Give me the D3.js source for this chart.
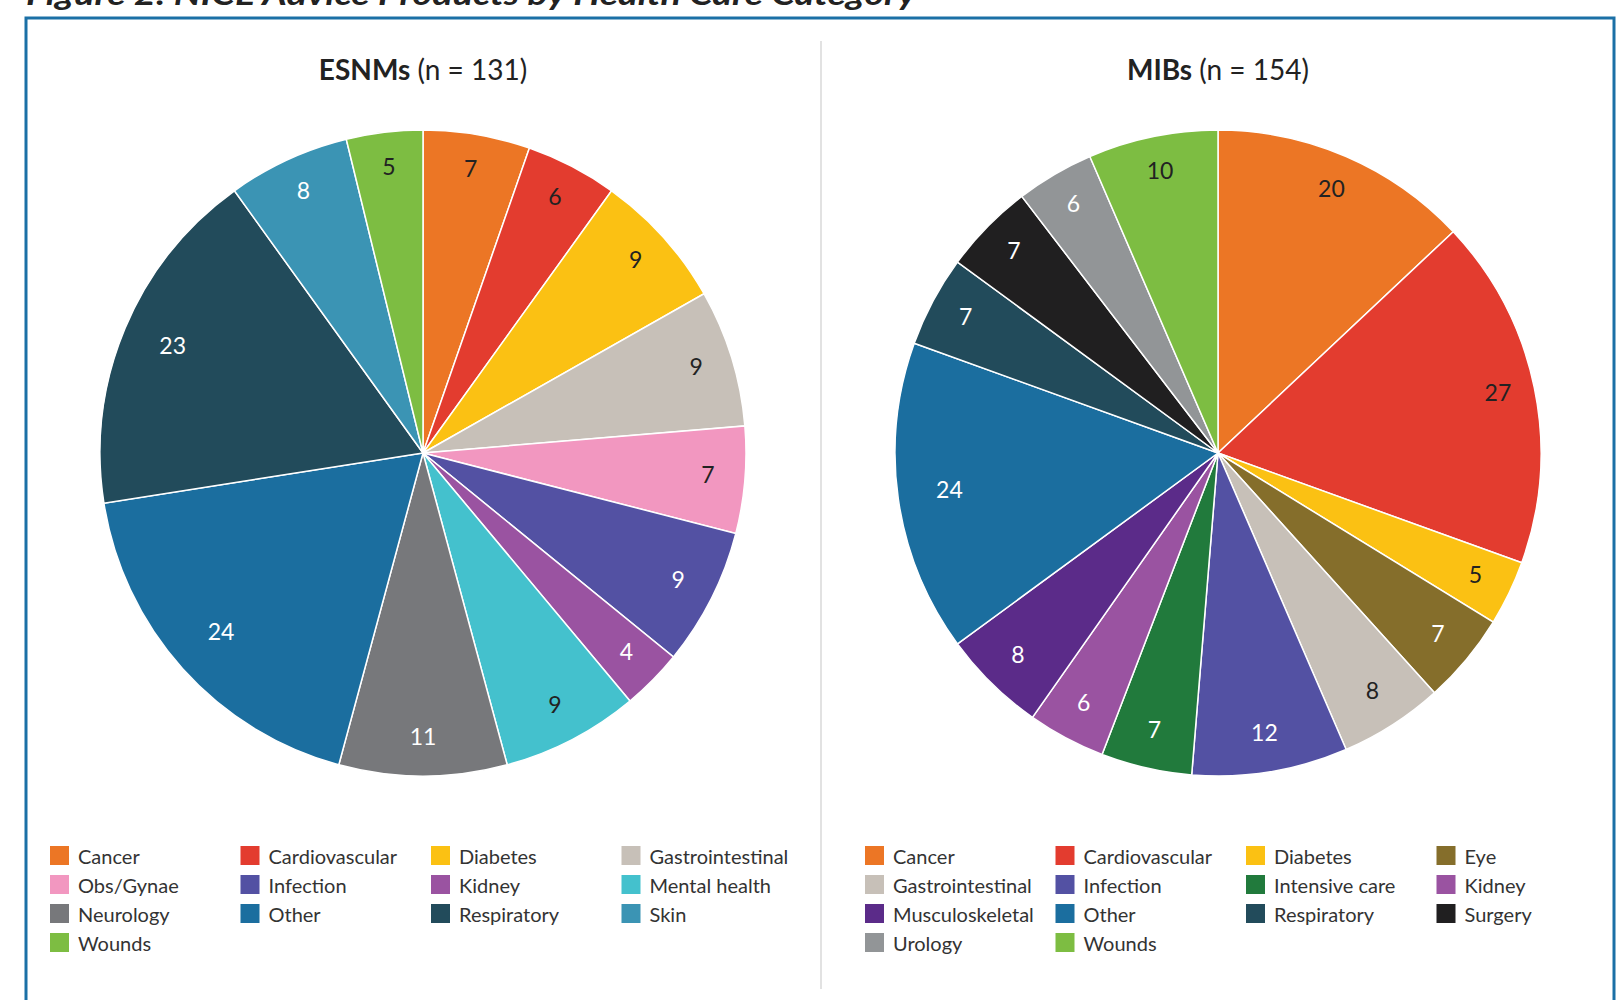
<!DOCTYPE html>
<html lang="en">
<head>
    <meta charset="UTF-8">
    <title>NICE Advice Products by Health Care Category</title>
    <style>
        body {
            margin: 0;
            background: #fff;
            font-family: Lato, "Open Sans", sans-serif;
        }
        .slice path {
            stroke: #fff;
            stroke-width: 1.5px;
        }
        .slice text {
            font-size: 23px;
            text-anchor: middle;
            dominant-baseline: central;
        }
        .legend text {
            font-size: 20px;
            fill: #333;
            dominant-baseline: central;
        }
        .panel-title {
            font-size: 28px;
            fill: #222;
            text-anchor: middle;
        }
    </style>
</head>
<body>
    <svg id="chart" width="1624" height="1000"></svg>
    <script src="https://d3js.org/d3.v7.min.js"></script>
    <script>
        // ESNMs, clockwise from 12 o'clock
        const esnmCategories = ["Cancer", "Cardiovascular", "Diabetes", "Gastrointestinal",
            "Obs/Gynae", "Infection", "Kidney", "Mental health",
            "Neurology", "Other", "Respiratory", "Skin", "Wounds"];
        const esnmValues = [7, 6, 9, 9, 7, 9, 4, 9, 11, 24, 23, 8, 5];

        // MIBs
        const mibCategories = ["Cancer", "Cardiovascular", "Diabetes", "Eye",
            "Gastrointestinal", "Infection", "Intensive care", "Kidney",
            "Musculoskeletal", "Other", "Respiratory", "Surgery", "Urology", "Wounds"];
        const mibValues = [20, 27, 5, 7, 8, 12, 7, 6, 8, 24, 7, 7, 6, 10];

        const allCategories = ["Cancer", "Cardiovascular", "Diabetes", "Eye", "Gastrointestinal",
            "Obs/Gynae", "Infection", "Intensive care", "Kidney", "Mental health",
            "Musculoskeletal", "Neurology", "Other", "Respiratory", "Skin",
            "Surgery", "Urology", "Wounds"];
        const allColors = ["#ec7625", "#e33c2f", "#fbc113", "#856e2b", "#c7c0b8",
            "#f297c0", "#5351a3", "#217a3c", "#9a53a1", "#44c1cd",
            "#5b2b89", "#77787b", "#1b6e9f", "#224b5b", "#3b94b4",
            "#201f20", "#929597", "#7dbd42"];
        // slices whose number is printed in dark text
        const darkLabelCats = ["Cancer", "Cardiovascular", "Diabetes", "Gastrointestinal",
            "Obs/Gynae", "Mental health", "Wounds"];

        const color = d3.scaleOrdinal().domain(allCategories).range(allColors);

        const svg = d3.select("#chart");

        // cut-off figure caption at the very top
        svg.append("text")
            .attr("x", 26)
            .attr("y", 5)
            .attr("textLength", 890)
            .attr("lengthAdjust", "spacingAndGlyphs")
            .style("font-size", "31px")
            .style("font-weight", "bold")
            .style("font-style", "italic")
            .style("fill", "#222")
            .text("Figure 2: NICE Advice Products by Health Care Category");

        // frame
        svg.append("rect")
            .attr("x", 26)
            .attr("y", 18)
            .attr("width", 1588)
            .attr("height", 1000)
            .attr("fill", "none")
            .attr("stroke", "#1b70a6")
            .attr("stroke-width", 3);

        svg.append("line")
            .attr("x1", 821).attr("x2", 821)
            .attr("y1", 41).attr("y2", 989)
            .attr("stroke", "#d9d9d9")
            .attr("stroke-width", 1.5);

        const radius = 323;
        const pie = d3.pie().sort(null).value(d => d.value);
        const arc = d3.arc().innerRadius(0).outerRadius(radius);

        function drawPanel(cx, title, n, cats, values, legendX) {
            const data = cats.map((c, i) => ({ name: c, value: values[i] }));

            const t = svg.append("text")
                .attr("class", "panel-title")
                .attr("x", cx)
                .attr("y", 80);
            t.append("tspan").style("font-weight", "bold").text(title);
            t.append("tspan").text(` (n = ${n})`);

            const g = svg.append("g")
                .attr("transform", `translate(${cx},453)`);

            const slice = g.selectAll(".slice")
                .data(pie(data))
                .enter()
                .append("g")
                .attr("class", "slice");

            slice.append("path")
                .attr("d", arc)
                .attr("fill", d => color(d.data.name));

            slice.append("text")
                .attr("transform", d => {
                    // the two big blue wedges carry their numbers a bit further in
                    const inner = (d.data.name === "Other" || d.data.name === "Respiratory") && d.data.value > 20;
                    const lr = radius * (inner ? 0.84 : 0.885);
                    const la = d3.arc().innerRadius(lr).outerRadius(lr);
                    return `translate(${la.centroid(d)})`;
                })
                .attr("dy", -3)
                .attr("fill", d => darkLabelCats.includes(d.data.name) ? "#222" : "#fff")
                .text(d => d.data.value);

            const legend = svg.append("g")
                .attr("class", "legend")
                .attr("transform", `translate(${legendX},846)`);

            const item = legend.selectAll("g")
                .data(cats)
                .enter()
                .append("g")
                .attr("transform", (d, i) => `translate(${(i % 4) * 190.5},${Math.floor(i / 4) * 29})`);

            item.append("rect")
                .attr("width", 19)
                .attr("height", 19)
                .attr("fill", d => color(d));

            item.append("text")
                .attr("x", 28)
                .attr("y", 10)
                .text(d => d);
        }

        drawPanel(423, "ESNMs", d3.sum(esnmValues), esnmCategories, esnmValues, 50);
        drawPanel(1218, "MIBs", d3.sum(mibValues), mibCategories, mibValues, 865);
    </script>
</body>
</html>
